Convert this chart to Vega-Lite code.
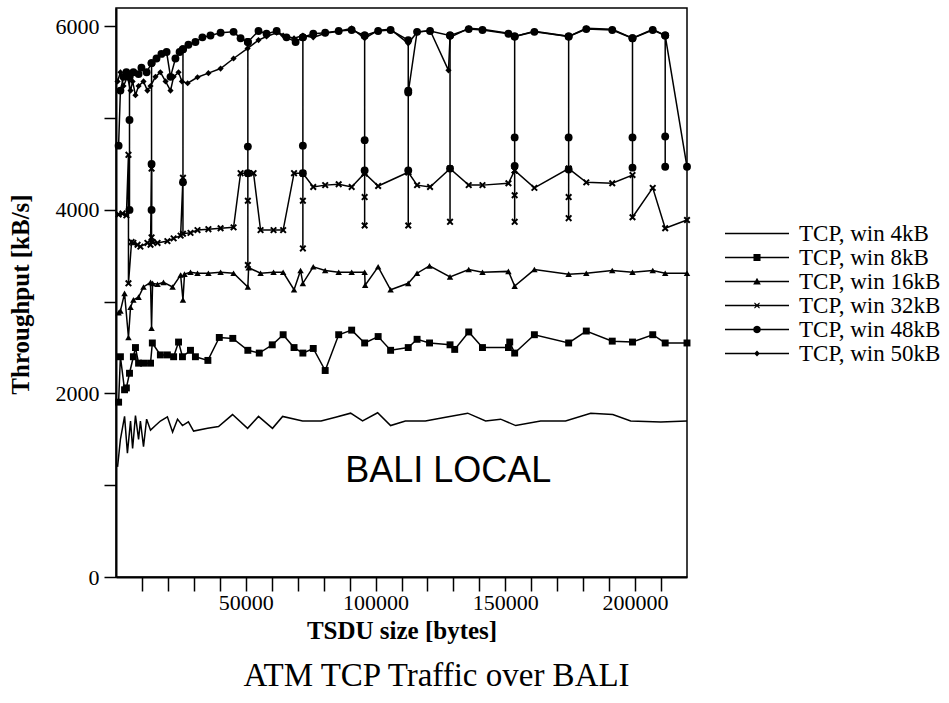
{
  "$schema": "https://vega.github.io/schema/vega-lite/v6.json",
  "width": 571,
  "height": 569,
  "autosize": "none",
  "padding": {"left": 116, "top": 8, "right": 262, "bottom": 126},
  "config": {
    "view": {"stroke": "black", "strokeWidth": 1.5},
    "font": "Liberation Serif"
  },
  "title": {
    "text": "ATM TCP Traffic over BALI",
    "orient": "bottom",
    "font": "Liberation Serif",
    "fontSize": 33,
    "fontWeight": "normal",
    "color": "black",
    "offset": 17,
    "dx": 35
  },
  "datasets": {
    "tcp": [
      {"s":"4","x":600,"y":1200},{"s":"4","x":1700,"y":1500},{"s":"4","x":3300,"y":1750},{"s":"4","x":4400,"y":1350},{"s":"4","x":5600,"y":1700},{"s":"4","x":6400,"y":1400},{"s":"4","x":7500,"y":1760},{"s":"4","x":8700,"y":1500},{"s":"4","x":9400,"y":1700},{"s":"4","x":10600,"y":1420},{"s":"4","x":11800,"y":1720},{"s":"4","x":13300,"y":1600},{"s":"4","x":15200,"y":1650},{"s":"4","x":17100,"y":1700},{"s":"4","x":19800,"y":1745},{"s":"4","x":21800,"y":1580},{"s":"4","x":23700,"y":1720},{"s":"4","x":25600,"y":1650},{"s":"4","x":27900,"y":1690},{"s":"4","x":29900,"y":1590},{"s":"4","x":35300,"y":1620},{"s":"4","x":39500,"y":1640},{"s":"4","x":44900,"y":1770},{"s":"4","x":50700,"y":1620},{"s":"4","x":54900,"y":1750},{"s":"4","x":60300,"y":1620},{"s":"4","x":64200,"y":1750},{"s":"4","x":71900,"y":1700},{"s":"4","x":79000,"y":1700},{"s":"4","x":84600,"y":1740},{"s":"4","x":90400,"y":1785},{"s":"4","x":95000,"y":1700},{"s":"4","x":100800,"y":1790},{"s":"4","x":105800,"y":1650},{"s":"4","x":111500,"y":1700},{"s":"4","x":119200,"y":1700},{"s":"4","x":127000,"y":1740},{"s":"4","x":135500,"y":1785},{"s":"4","x":142400,"y":1700},{"s":"4","x":148200,"y":1720},{"s":"4","x":154000,"y":1650},{"s":"4","x":163600,"y":1700},{"s":"4","x":173200,"y":1700},{"s":"4","x":182900,"y":1785},{"s":"4","x":191400,"y":1770},{"s":"4","x":198300,"y":1700},{"s":"4","x":209900,"y":1690},{"s":"4","x":220000,"y":1700},

      {"s":"8","x":1000,"y":1905},{"s":"8","x":1700,"y":2400},{"s":"8","x":3300,"y":2040},{"s":"8","x":4000,"y":2060},{"s":"8","x":5200,"y":2220},{"s":"8","x":6700,"y":2400},{"s":"8","x":7500,"y":2500},{"s":"8","x":8700,"y":2330},{"s":"8","x":10600,"y":2330},{"s":"8","x":13300,"y":2330},{"s":"8","x":14000,"y":2550},{"s":"8","x":17100,"y":2420},{"s":"8","x":19800,"y":2420},{"s":"8","x":22200,"y":2400},{"s":"8","x":24100,"y":2560},{"s":"8","x":25600,"y":2400},{"s":"8","x":28700,"y":2470},{"s":"8","x":30600,"y":2400},{"s":"8","x":35400,"y":2360},{"s":"8","x":39800,"y":2610},{"s":"8","x":45000,"y":2600},{"s":"8","x":50800,"y":2470},{"s":"8","x":55200,"y":2440},{"s":"8","x":60200,"y":2530},{"s":"8","x":64400,"y":2640},{"s":"8","x":68600,"y":2500},{"s":"8","x":72000,"y":2440},{"s":"8","x":76000,"y":2490},{"s":"8","x":80600,"y":2250},{"s":"8","x":85800,"y":2640},{"s":"8","x":90800,"y":2690},{"s":"8","x":95800,"y":2550},{"s":"8","x":101000,"y":2620},{"s":"8","x":105800,"y":2470},{"s":"8","x":112600,"y":2500},{"s":"8","x":116000,"y":2590},{"s":"8","x":120800,"y":2550},{"s":"8","x":128700,"y":2530},{"s":"8","x":130500,"y":2480},{"s":"8","x":135900,"y":2670},{"s":"8","x":141200,"y":2500},{"s":"8","x":151200,"y":2500},{"s":"8","x":151700,"y":2560},{"s":"8","x":153600,"y":2440},{"s":"8","x":161200,"y":2640},{"s":"8","x":174400,"y":2550},{"s":"8","x":181200,"y":2680},{"s":"8","x":191200,"y":2570},{"s":"8","x":199000,"y":2560},{"s":"8","x":206800,"y":2640},{"s":"8","x":211600,"y":2550},{"s":"8","x":220000,"y":2550},

      {"s":"16","x":1000,"y":2880},{"s":"16","x":1700,"y":2900},{"s":"16","x":3300,"y":3090},{"s":"16","x":4800,"y":2610},{"s":"16","x":5600,"y":2940},{"s":"16","x":6700,"y":3020},{"s":"16","x":8700,"y":3050},{"s":"16","x":10600,"y":3160},{"s":"16","x":13300,"y":3210},{"s":"16","x":13700,"y":2710},{"s":"16","x":14100,"y":3200},{"s":"16","x":16000,"y":3190},{"s":"16","x":18300,"y":3210},{"s":"16","x":21800,"y":3160},{"s":"16","x":24900,"y":3290},{"s":"16","x":25800,"y":3020},{"s":"16","x":26400,"y":3300},{"s":"16","x":28700,"y":3320},{"s":"16","x":31400,"y":3310},{"s":"16","x":35600,"y":3310},{"s":"16","x":40300,"y":3320},{"s":"16","x":45300,"y":3310},{"s":"16","x":50800,"y":3160},{"s":"16","x":51100,"y":3370},{"s":"16","x":55700,"y":3310},{"s":"16","x":60700,"y":3320},{"s":"16","x":64400,"y":3320},{"s":"16","x":68600,"y":3130},{"s":"16","x":71100,"y":3340},{"s":"16","x":72000,"y":3200},{"s":"16","x":76000,"y":3380},{"s":"16","x":80600,"y":3340},{"s":"16","x":85800,"y":3320},{"s":"16","x":90800,"y":3320},{"s":"16","x":95800,"y":3320},{"s":"16","x":96000,"y":3180},{"s":"16","x":101000,"y":3380},{"s":"16","x":105800,"y":3130},{"s":"16","x":112600,"y":3200},{"s":"16","x":116000,"y":3310},{"s":"16","x":120800,"y":3390},{"s":"16","x":128700,"y":3270},{"s":"16","x":135900,"y":3350},{"s":"16","x":141200,"y":3320},{"s":"16","x":151200,"y":3330},{"s":"16","x":153600,"y":3170},{"s":"16","x":161200,"y":3350},{"s":"16","x":174400,"y":3300},{"s":"16","x":181200,"y":3310},{"s":"16","x":191200,"y":3340},{"s":"16","x":199000,"y":3320},{"s":"16","x":206800,"y":3340},{"s":"16","x":211600,"y":3310},{"s":"16","x":220000,"y":3310},

      {"s":"32","x":1000,"y":3950},{"s":"32","x":2500,"y":3960},{"s":"32","x":4000,"y":3940},{"s":"32","x":4800,"y":4600},{"s":"32","x":4801,"y":3200},{"s":"32","x":6000,"y":3650},{"s":"32","x":6700,"y":3640},{"s":"32","x":8300,"y":3620},{"s":"32","x":9400,"y":3600},{"s":"32","x":12100,"y":3640},{"s":"32","x":13300,"y":3620},{"s":"32","x":13700,"y":4450},{"s":"32","x":13701,"y":3700},{"s":"32","x":14100,"y":3650},{"s":"32","x":16000,"y":3640},{"s":"32","x":19800,"y":3660},{"s":"32","x":22200,"y":3690},{"s":"32","x":24900,"y":3720},{"s":"32","x":25800,"y":4350},{"s":"32","x":25801,"y":3740},{"s":"32","x":28700,"y":3750},{"s":"32","x":31400,"y":3780},{"s":"32","x":35600,"y":3790},{"s":"32","x":40300,"y":3800},{"s":"32","x":45300,"y":3810},{"s":"32","x":48000,"y":4400},{"s":"32","x":50800,"y":4400},{"s":"32","x":50801,"y":4100},{"s":"32","x":50802,"y":3400},{"s":"32","x":50803,"y":4400},{"s":"32","x":53000,"y":4400},{"s":"32","x":55700,"y":3780},{"s":"32","x":60700,"y":3780},{"s":"32","x":64400,"y":3780},{"s":"32","x":68600,"y":4400},{"s":"32","x":72000,"y":4400},{"s":"32","x":72001,"y":4100},{"s":"32","x":72002,"y":3580},{"s":"32","x":72003,"y":4400},{"s":"32","x":76000,"y":4250},{"s":"32","x":80600,"y":4270},{"s":"32","x":85800,"y":4280},{"s":"32","x":90800,"y":4250},{"s":"32","x":95800,"y":4400},{"s":"32","x":95801,"y":4140},{"s":"32","x":95802,"y":3830},{"s":"32","x":95803,"y":4400},{"s":"32","x":101000,"y":4260},{"s":"32","x":112600,"y":4410},{"s":"32","x":112601,"y":3830},{"s":"32","x":112602,"y":4410},{"s":"32","x":116000,"y":4270},{"s":"32","x":121000,"y":4250},{"s":"32","x":128700,"y":4450},{"s":"32","x":128701,"y":3870},{"s":"32","x":128702,"y":4450},{"s":"32","x":135900,"y":4270},{"s":"32","x":141200,"y":4270},{"s":"32","x":151200,"y":4290},{"s":"32","x":153600,"y":4430},{"s":"32","x":153601,"y":4160},{"s":"32","x":153602,"y":3870},{"s":"32","x":153603,"y":4430},{"s":"32","x":161200,"y":4240},{"s":"32","x":174400,"y":4450},{"s":"32","x":174401,"y":4140},{"s":"32","x":174402,"y":3910},{"s":"32","x":174403,"y":4450},{"s":"32","x":181200,"y":4300},{"s":"32","x":191200,"y":4290},{"s":"32","x":199000,"y":4380},{"s":"32","x":199001,"y":3920},{"s":"32","x":206800,"y":4240},{"s":"32","x":211600,"y":3800},{"s":"32","x":220000,"y":3890},

      {"s":"48","x":1000,"y":4700},{"s":"48","x":1700,"y":5300},{"s":"48","x":2900,"y":5450},{"s":"48","x":4000,"y":5500},{"s":"48","x":5200,"y":5450},{"s":"48","x":5201,"y":4980},{"s":"48","x":5202,"y":4000},{"s":"48","x":5203,"y":5450},{"s":"48","x":6700,"y":5500},{"s":"48","x":8700,"y":5480},{"s":"48","x":9800,"y":5550},{"s":"48","x":11800,"y":5500},{"s":"48","x":13700,"y":5600},{"s":"48","x":13701,"y":4500},{"s":"48","x":13702,"y":4000},{"s":"48","x":13703,"y":5600},{"s":"48","x":15600,"y":5650},{"s":"48","x":17500,"y":5700},{"s":"48","x":19500,"y":5720},{"s":"48","x":21000,"y":5450},{"s":"48","x":22900,"y":5650},{"s":"48","x":24500,"y":5720},{"s":"48","x":25800,"y":5750},{"s":"48","x":25801,"y":4300},{"s":"48","x":25802,"y":5750},{"s":"48","x":27900,"y":5800},{"s":"48","x":30600,"y":5830},{"s":"48","x":33300,"y":5880},{"s":"48","x":36400,"y":5900},{"s":"48","x":40300,"y":5930},{"s":"48","x":45300,"y":5940},{"s":"48","x":48000,"y":5870},{"s":"48","x":50800,"y":5830},{"s":"48","x":50801,"y":4690},{"s":"48","x":50802,"y":4400},{"s":"48","x":50803,"y":5830},{"s":"48","x":54900,"y":5950},{"s":"48","x":58000,"y":5920},{"s":"48","x":61900,"y":5950},{"s":"48","x":65700,"y":5880},{"s":"48","x":69200,"y":5830},{"s":"48","x":72000,"y":5880},{"s":"48","x":72001,"y":4700},{"s":"48","x":72002,"y":4400},{"s":"48","x":72003,"y":5880},{"s":"48","x":76000,"y":5920},{"s":"48","x":80600,"y":5930},{"s":"48","x":85800,"y":5950},{"s":"48","x":90800,"y":5960},{"s":"48","x":95800,"y":5900},{"s":"48","x":95801,"y":4760},{"s":"48","x":95802,"y":4430},{"s":"48","x":95803,"y":5900},{"s":"48","x":101000,"y":5950},{"s":"48","x":105800,"y":5960},{"s":"48","x":112600,"y":5850},{"s":"48","x":112601,"y":5300},{"s":"48","x":112602,"y":4430},{"s":"48","x":112603,"y":5280},{"s":"48","x":116000,"y":5940},{"s":"48","x":121000,"y":5950},{"s":"48","x":128700,"y":5900},{"s":"48","x":128701,"y":4450},{"s":"48","x":128702,"y":5900},{"s":"48","x":135900,"y":5970},{"s":"48","x":141200,"y":5960},{"s":"48","x":151200,"y":5920},{"s":"48","x":153600,"y":5890},{"s":"48","x":153601,"y":4790},{"s":"48","x":153602,"y":4480},{"s":"48","x":153603,"y":5890},{"s":"48","x":161200,"y":5940},{"s":"48","x":174400,"y":5890},{"s":"48","x":174401,"y":4790},{"s":"48","x":174402,"y":4440},{"s":"48","x":174403,"y":5890},{"s":"48","x":181200,"y":5970},{"s":"48","x":191200,"y":5960},{"s":"48","x":199000,"y":5870},{"s":"48","x":199001,"y":4790},{"s":"48","x":199002,"y":4460},{"s":"48","x":199003,"y":5870},{"s":"48","x":206800,"y":5960},{"s":"48","x":211600,"y":5900},{"s":"48","x":211601,"y":4800},{"s":"48","x":211602,"y":4470},{"s":"48","x":211603,"y":5900},{"s":"48","x":220000,"y":4470},

      {"s":"50","x":600,"y":5400},{"s":"50","x":1700,"y":5500},{"s":"50","x":2900,"y":5350},{"s":"50","x":4400,"y":5450},{"s":"50","x":5600,"y":5300},{"s":"50","x":6400,"y":5400},{"s":"50","x":7500,"y":5250},{"s":"50","x":8700,"y":5350},{"s":"50","x":10600,"y":5400},{"s":"50","x":12100,"y":5300},{"s":"50","x":13300,"y":5350},{"s":"50","x":15200,"y":5450},{"s":"50","x":17100,"y":5500},{"s":"50","x":19100,"y":5400},{"s":"50","x":21000,"y":5300},{"s":"50","x":22200,"y":5450},{"s":"50","x":24100,"y":5500},{"s":"50","x":25400,"y":5400},{"s":"50","x":27600,"y":5380},{"s":"50","x":31400,"y":5445},{"s":"50","x":35600,"y":5490},{"s":"50","x":40300,"y":5540},{"s":"50","x":45300,"y":5650},{"s":"50","x":50700,"y":5760},{"s":"50","x":54900,"y":5850},{"s":"50","x":58000,"y":5890},{"s":"50","x":61900,"y":5930},{"s":"50","x":64400,"y":5900},{"s":"50","x":68600,"y":5870},{"s":"50","x":72000,"y":5900},{"s":"50","x":76000,"y":5880},{"s":"50","x":80600,"y":5924},{"s":"50","x":85800,"y":5946},{"s":"50","x":90800,"y":5978},{"s":"50","x":95800,"y":5870},{"s":"50","x":101000,"y":5957},{"s":"50","x":105800,"y":5968},{"s":"50","x":112600,"y":5815},{"s":"50","x":116000,"y":5935},{"s":"50","x":121000,"y":5957},{"s":"50","x":128100,"y":5521},{"s":"50","x":128700,"y":5880},{"s":"50","x":135900,"y":5978},{"s":"50","x":141200,"y":5968},{"s":"50","x":151200,"y":5924},{"s":"50","x":153600,"y":5891},{"s":"50","x":161200,"y":5946},{"s":"50","x":174400,"y":5891},{"s":"50","x":181200,"y":5978},{"s":"50","x":191200,"y":5968},{"s":"50","x":199000,"y":5870},{"s":"50","x":206800,"y":5968},{"s":"50","x":211600,"y":5902}
    ],
    "note": [{"label": "BALI LOCAL", "x": 128000, "y": 1150}]
  },
  "encoding": {
    "x": {
      "field": "x", "type": "quantitative",
      "scale": {"domain": [0, 220000], "nice": false, "zero": false},
      "axis": {
        "title": "TSDU size [bytes]",
        "values": [10000,20000,30000,40000,50000,60000,70000,80000,90000,100000,110000,120000,130000,140000,150000,160000,170000,180000,190000,200000,210000],
        "format": "d",
        "labelExpr": "datum.value % 50000 === 0 ? datum.label : ''",
        "grid": false,
        "tickSize": 14,
        "tickWidth": 1.5,
        "tickColor": "black",
        "domainColor": "black",
        "domainWidth": 2,
        "labelFont": "Liberation Serif",
        "labelFontSize": 22,
        "labelColor": "black",
        "labelPadding": 1,
        "labelFlush": false,
        "labelOverlap": false,
        "titleFont": "Liberation Serif",
        "titleFontSize": 25,
        "titleFontWeight": "bold",
        "titleColor": "black",
        "titlePadding": 5,
        "encode": {"ticks": {"update": {"y2": {"signal": "datum.value % 50000 === 0 ? 14 : 7"}}}}
      }
    },
    "y": {
      "field": "y", "type": "quantitative",
      "scale": {"domain": [0, 6200], "nice": false},
      "axis": {
        "title": "Throughput [kB/s]",
        "values": [0,1000,2000,3000,4000,5000,6000],
        "format": "d",
        "labelExpr": "datum.value % 2000 === 0 ? datum.label : ''",
        "grid": false,
        "tickSize": 12,
        "tickWidth": 1.5,
        "tickColor": "black",
        "domainColor": "black",
        "domainWidth": 2,
        "labelFont": "Liberation Serif",
        "labelFontSize": 22,
        "labelColor": "black",
        "labelPadding": 5,
        "labelFlush": false,
        "labelOverlap": false,
        "titleFont": "Liberation Serif",
        "titleFontSize": 25,
        "titleFontWeight": "bold",
        "titleColor": "black",
        "titleX": -83,
        "titleY": 286,
        "encode": {"ticks": {"update": {"x2": {"signal": "datum.value % 2000 === 0 ? -12 : -5"}}}}
      }
    }
  },
  "layer": [
    {
      "data": {"name": "tcp"},
      "mark": {"type": "line", "color": "black", "strokeWidth": 1.5},
      "encoding": {"detail": {"field": "s"}}
    },
    {
      "data": {"name": "tcp"},
      "transform": [{"filter": "datum.s === '8'"}],
      "mark": {"type": "point", "shape": "square", "filled": true, "color": "black", "opacity": 1, "size": 48}
    },
    {
      "data": {"name": "tcp"},
      "transform": [{"filter": "datum.s === '16'"}],
      "mark": {"type": "point", "shape": "triangle-up", "filled": true, "color": "black", "opacity": 1, "size": 42}
    },
    {
      "data": {"name": "tcp"},
      "transform": [{"filter": "datum.s === '32'"}],
      "mark": {"type": "point", "shape": "M-1,-0.6L-0.6,-1L0,-0.4L0.6,-1L1,-0.6L0.4,0L1,0.6L0.6,1L0,0.4L-0.6,1L-1,0.6L-0.4,0Z", "filled": true, "color": "black", "opacity": 1, "size": 48}
    },
    {
      "data": {"name": "tcp"},
      "transform": [{"filter": "datum.s === '48'"}],
      "mark": {"type": "point", "shape": "circle", "filled": true, "color": "black", "opacity": 1, "size": 62}
    },
    {
      "data": {"name": "tcp"},
      "transform": [{"filter": "datum.s === '50'"}],
      "mark": {"type": "point", "shape": "diamond", "filled": true, "color": "black", "opacity": 1, "size": 38}
    },
    {
      "data": {"name": "tcp"},
      "transform": [{"filter": "false"}],
      "mark": {"type": "point", "filled": true, "color": "black", "opacity": 1},
      "encoding": {
        "shape": {
          "field": "s", "type": "nominal",
          "scale": {
            "domain": ["4","8","16","32","48","50"],
            "range": [
              "M-1,-0.02H1V0.02H-1Z",
              "M-1,-0.02H1V0.02H-1ZM-0.11,-0.11H0.11V0.11H-0.11Z",
              "M-1,-0.02H1V0.02H-1ZM0,-0.12L0.12,0.09H-0.12Z",
              "M-1,-0.02H1V0.02H-1ZM-0.09,-0.07L-0.07,-0.09L0,-0.03L0.07,-0.09L0.09,-0.07L0.03,0L0.09,0.07L0.07,0.09L0,0.03L-0.07,0.09L-0.09,0.07L-0.03,0Z",
              "M-1,-0.02H1V0.02H-1ZM0.12,0L0.104,0.06L0.06,0.104L0,0.12L-0.06,0.104L-0.104,0.06L-0.12,0L-0.104,-0.06L-0.06,-0.104L0,-0.12L0.06,-0.104L0.104,-0.06Z",
              "M-1,-0.02H1V0.02H-1ZM0,-0.09L0.09,0L0,0.09L-0.09,0Z"
            ]
          },
          "legend": {
            "orient": "none",
            "legendX": 609,
            "legendY": 215,
            "title": null,
            "padding": 0,
            "labelFont": "Liberation Serif",
            "labelFontSize": 23,
            "labelColor": "black",
            "labelOffset": 10,
            "symbolSize": 4096,
            "symbolFillColor": "black",
            "symbolStrokeWidth": 0,
            "clipHeight": 21,
            "rowPadding": 0,
            "labelExpr": "'TCP, win ' + datum.label + 'kB'"
          }
        }
      }
    },
    {
      "data": {"name": "note"},
      "mark": {"type": "text", "font": "Liberation Sans", "fontSize": 36, "color": "black", "align": "center", "baseline": "middle"},
      "encoding": {
        "text": {"field": "label"}
      }
    }
  ]
}
